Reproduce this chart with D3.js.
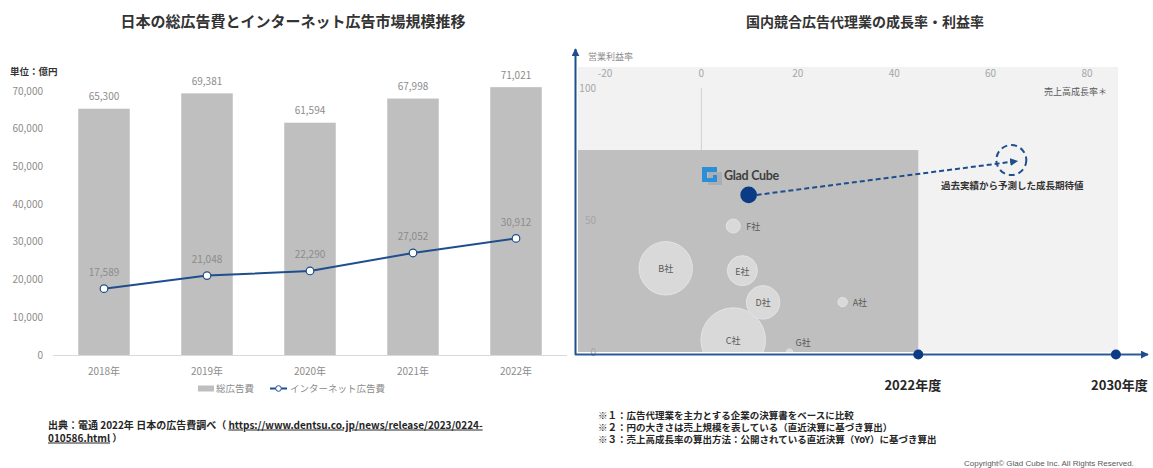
<!DOCTYPE html>
<html><head><meta charset="utf-8">
<script src="https://cdn.jsdelivr.net/npm/d3@7"></script>
<style>
body{margin:0;background:#fff;}
svg{display:block;font-family:"Noto Sans CJK JP","Noto Sans",sans-serif;}
</style>
</head><body>
<svg id="c" width="1153" height="468"></svg>
<script>
// ---------- Left chart data ----------
const years = ["2018年","2019年","2020年","2021年","2022年"];
const totalAd = [65300,69381,61594,67998,71021];
const internetAd = [17589,21048,22290,27052,30912];
const yTicksL = [0,10000,20000,30000,40000,50000,60000,70000];
const legendLabels = ["総広告費","インターネット広告費"];

// ---------- Right chart data ----------
const companies = ["A社","B社","C社","D社","E社","F社","G社"];
const growthRate = [29.3,-7.4,6.6,12.8,8.5,6.6,18.3];
const profitRate = [18.9,31.7,4.5,18.8,30.8,47.7,0];
const salesSize  = [2.1,68.3,100,26.7,21.6,4.7,0.9];
const gladGrowth = 9.8, gladProfit = 59.5, gladSize = 6.6;
const targetGrowth = 64.3, targetProfit = 72.7;
const xTicksR = [-20,0,20,40,60,80];
const yTicksR = [0,50,100];
const periods = ["2022年度","2030年度"];
const periodGrowth = [45,86];
const currentProfitTop = 76.5;

const svg = d3.select("#c");
const navy = "#0c3b85", blue = "#1f4e8c";

// ===== Left chart =====
svg.append("text").attr("x",293).attr("y",27).attr("text-anchor","middle")
  .attr("font-size",15).attr("font-weight","bold").attr("fill","#333").text("日本の総広告費とインターネット広告市場規模推移");
svg.append("text").attr("x",10).attr("y",75).attr("font-size",9.5).attr("font-weight","bold").attr("fill","#333").text("単位：億円");

const xL = d3.scaleBand().domain(years).range([52.5,567.5]).paddingInner(0.5).paddingOuter(0.25);
const yL = d3.scaleLinear().domain([0,70000]).range([355,91]);

const gL = svg.append("g");
gL.selectAll(".yt").data(yTicksL).join("text").attr("x",43).attr("y",d=>yL(d)+3.5)
  .attr("text-anchor","end").attr("font-size",10).attr("fill","#8c8c8c").text(d=>d3.format(",")(d));
gL.selectAll(".bar").data(totalAd).join("rect")
  .attr("x",(d,i)=>xL(years[i])).attr("width",xL.bandwidth())
  .attr("y",d=>yL(d)).attr("height",d=>yL(0)-yL(d)).attr("fill","#bfbfbf");
gL.append("line").attr("x1",53).attr("x2",567).attr("y1",yL(0)+0.5).attr("y2",yL(0)+0.5).attr("stroke","#d9d9d9");
gL.selectAll(".bl").data(totalAd).join("text")
  .attr("x",(d,i)=>xL(years[i])+xL.bandwidth()/2).attr("y",d=>yL(d)-8.5)
  .attr("text-anchor","middle").attr("font-size",10).attr("fill","#8c8c8c").text(d=>d3.format(",")(d));
gL.selectAll(".xl").data(years).join("text")
  .attr("x",d=>xL(d)+xL.bandwidth()/2).attr("y",374.5).attr("text-anchor","middle")
  .attr("font-size",10).attr("fill","#8c8c8c").text(d=>d);
const line = d3.line().x((d,i)=>xL(years[i])+xL.bandwidth()/2).y(d=>yL(d));
gL.append("path").datum(internetAd).attr("d",line).attr("fill","none").attr("stroke",blue).attr("stroke-width",2);
gL.selectAll(".pt").data(internetAd).join("circle")
  .attr("cx",(d,i)=>xL(years[i])+xL.bandwidth()/2).attr("cy",d=>yL(d)).attr("r",3.8)
  .attr("fill","#fff").attr("stroke",blue).attr("stroke-width",1.2);
gL.selectAll(".pl").data(internetAd).join("text")
  .attr("x",(d,i)=>xL(years[i])+xL.bandwidth()/2).attr("y",d=>yL(d)-12.5)
  .attr("text-anchor","middle").attr("font-size",10).attr("fill","#8c8c8c").text(d=>d3.format(",")(d));
// legend
const lg = svg.append("g");
lg.append("rect").attr("x",198).attr("y",385.5).attr("width",16).attr("height",6).attr("fill","#bfbfbf");
lg.append("text").attr("x",216).attr("y",392).attr("font-size",9.5).attr("fill","#8c8c8c").text(legendLabels[0]);
lg.append("line").attr("x1",270).attr("x2",287).attr("y1",388.5).attr("y2",388.5).attr("stroke",blue).attr("stroke-width",2);
lg.append("circle").attr("cx",278.5).attr("cy",388.5).attr("r",2.8).attr("fill","#fff").attr("stroke",blue);
lg.append("text").attr("x",290).attr("y",392).attr("font-size",9.5).attr("fill","#8c8c8c").text(legendLabels[1]);
// source
const src = svg.append("text").attr("x",48).attr("y",428.5).attr("font-size",10).attr("font-weight","bold").attr("fill","#262626");
src.append("tspan").text("出典：電通 2022年 日本の広告費調べ（ ");
src.append("tspan").attr("text-decoration","underline").text("https://www.dentsu.co.jp/news/release/2023/0224-");
const src2 = svg.append("text").attr("x",48).attr("y",441.5).attr("font-size",10).attr("font-weight","bold").attr("fill","#262626");
src2.append("tspan").attr("text-decoration","underline").text("010586.html");
src2.append("tspan").text(" ）");

// ===== Right chart =====
svg.append("text").attr("x",865).attr("y",27).attr("text-anchor","middle")
  .attr("font-size",14).attr("font-weight","bold").attr("fill","#333").text("国内競合広告代理業の成長率・利益率");

const xR = d3.scaleLinear().domain([-20,80]).range([605,1087]);
const yR = d3.scaleLinear().domain([0,100]).range([352,88]);
const rS = d3.scaleSqrt().domain([0,100]).range([0,32.3]);

const gR = svg.append("g");
gR.append("rect").attr("x",578).attr("y",67).attr("width",1118-578).attr("height",352-67).attr("fill","#f2f2f2");
gR.append("line").attr("x1",xR(0)).attr("x2",xR(0)).attr("y1",yR(100)).attr("y2",yR(0)).attr("stroke","#d0d0d0");
gR.append("rect").attr("x",578).attr("y",yR(currentProfitTop)).attr("width",xR(periodGrowth[0])-578)
  .attr("height",yR(0)-yR(currentProfitTop)).attr("fill","#bfbfbf");
gR.selectAll(".xt").data(xTicksR).join("text").attr("x",d=>xR(d)).attr("y",77).attr("text-anchor","middle")
  .attr("font-size",10).attr("fill","#a6a6a6").text(d=>d);
gR.selectAll(".yt").data(yTicksR).join("text").attr("x",596).attr("y",d=>yR(d)+3.5).attr("text-anchor","end")
  .attr("font-size",10).attr("fill","#a6a6a6").text(d=>d);
gR.append("text").attr("x",1107).attr("y",95).attr("text-anchor","end").attr("font-size",9).attr("fill","#595959").text("売上高成長率＊");
gR.append("text").attr("x",588).attr("y",60).attr("font-size",9).attr("fill","#8c8c8c").text("営業利益率");

// bubbles
svg.append("clipPath").attr("id","clipR").append("rect").attr("x",578).attr("y",60).attr("width",545).attr("height",352-60);
const bub = gR.append("g").attr("clip-path","url(#clipR)");
const order = d3.range(companies.length).sort((a,b)=>salesSize[b]-salesSize[a]);
bub.selectAll("circle").data(order).join("circle")
  .attr("cx",i=>xR(growthRate[i])).attr("cy",i=>yR(profitRate[i])).attr("r",i=>rS(salesSize[i]))
  .attr("fill","#d9d9d9").attr("stroke","#e4e4e4").attr("stroke-width",1);
const outside = {"A社":[10,4],"F社":[13,4],"G社":[6,-6]};
gR.selectAll(".cl").data(companies).join("text")
  .attr("x",(d,i)=> outside[d] ? xR(growthRate[i])+outside[d][0] : xR(growthRate[i]))
  .attr("y",(d,i)=> yR(profitRate[i]) + (outside[d] ? outside[d][1] : 4))
  .attr("text-anchor",d=> outside[d] ? "start" : "middle")
  .attr("font-size",9).attr("fill","#595959").text(d=>d);

// axes
const defs = svg.append("defs");
defs.append("marker").attr("id","ah").attr("viewBox","0 0 10 10").attr("refX",9).attr("refY",5)
  .attr("markerWidth",4).attr("markerHeight",4).attr("orient","auto")
  .append("path").attr("d","M0,0L10,5L0,10z").attr("fill",blue);
gR.append("line").attr("x1",575.5).attr("x2",575.5).attr("y1",355).attr("y2",49).attr("stroke",blue).attr("stroke-width",2).attr("marker-end","url(#ah)");
gR.append("line").attr("x1",575).attr("x2",1148).attr("y1",354.5).attr("y2",354.5).attr("stroke","#2f5a98").attr("stroke-width",2).attr("marker-end","url(#ah)");
gR.selectAll(".pd").data(periodGrowth).join("circle").attr("cx",d=>xR(d)).attr("cy",354.5).attr("r",5).attr("fill",navy);
const periodShift = [-5.5, 3.5];
gR.selectAll(".pdl").data(periods).join("text").attr("x",(d,i)=>xR(periodGrowth[i])+periodShift[i]).attr("y",389.5)
  .attr("text-anchor","middle").attr("font-size",13).attr("font-weight","bold").attr("fill","#262626").text(d=>d);

// Glad Cube
const gx = xR(gladGrowth), gy = yR(gladProfit);
const tx = xR(targetGrowth), ty = yR(targetProfit);
gR.append("line").attr("x1",gx+8).attr("y1",gy).attr("x2",tx+6).attr("y2",ty+1)
  .attr("stroke",blue).attr("stroke-width",2).attr("stroke-dasharray","5,3").attr("marker-end","url(#ah)");
gR.append("circle").attr("cx",gx).attr("cy",gy).attr("r",rS(gladSize)).attr("fill",navy);
gR.append("circle").attr("cx",tx).attr("cy",ty).attr("r",15).attr("fill","none")
  .attr("stroke",blue).attr("stroke-width",2).attr("stroke-dasharray","6,4");
gR.append("text").attr("x",tx+1).attr("y",189).attr("text-anchor","middle").attr("font-size",9.5)
  .attr("font-weight","bold").attr("fill","#333").text("過去実績から予測した成長期待値");
// logo
const lo = gR.append("g");
lo.append("rect").attr("x",708).attr("y",172).attr("width",14).attr("height",13).attr("fill","#a9aeb5");
lo.append("path").attr("d","M702,167h15v5h-10v6h6v-3h4v7h-15z").attr("fill","#2b8fd8");
lo.append("text").attr("x",724).attr("y",180).attr("font-family","Lato, sans-serif").attr("font-size",12.5)
  .attr("font-weight","bold").attr("fill","#404040").attr("letter-spacing",-0.3).text("Glad Cube");

// footnotes
const notes = ["※１：広告代理業を主力とする企業の決算書をベースに比較","※２：円の大きさは売上規模を表している（直近決算に基づき算出）","※３：売上高成長率の算出方法：公開されている直近決算（YoY）に基づき算出"];
svg.selectAll(".nt").data(notes).join("text").attr("x",598).attr("y",(d,i)=>419+i*12)
  .attr("font-size",9.5).attr("font-weight","bold").attr("fill","#262626").text(d=>d);
svg.append("text").attr("x",1134).attr("y",465.5).attr("text-anchor","end").attr("font-size",8)
  .attr("font-family","'Liberation Sans', Arial, sans-serif")
  .attr("fill","#595959").text("Copyright© Glad Cube Inc. All Rights Reserved.");
</script>
</body></html>
